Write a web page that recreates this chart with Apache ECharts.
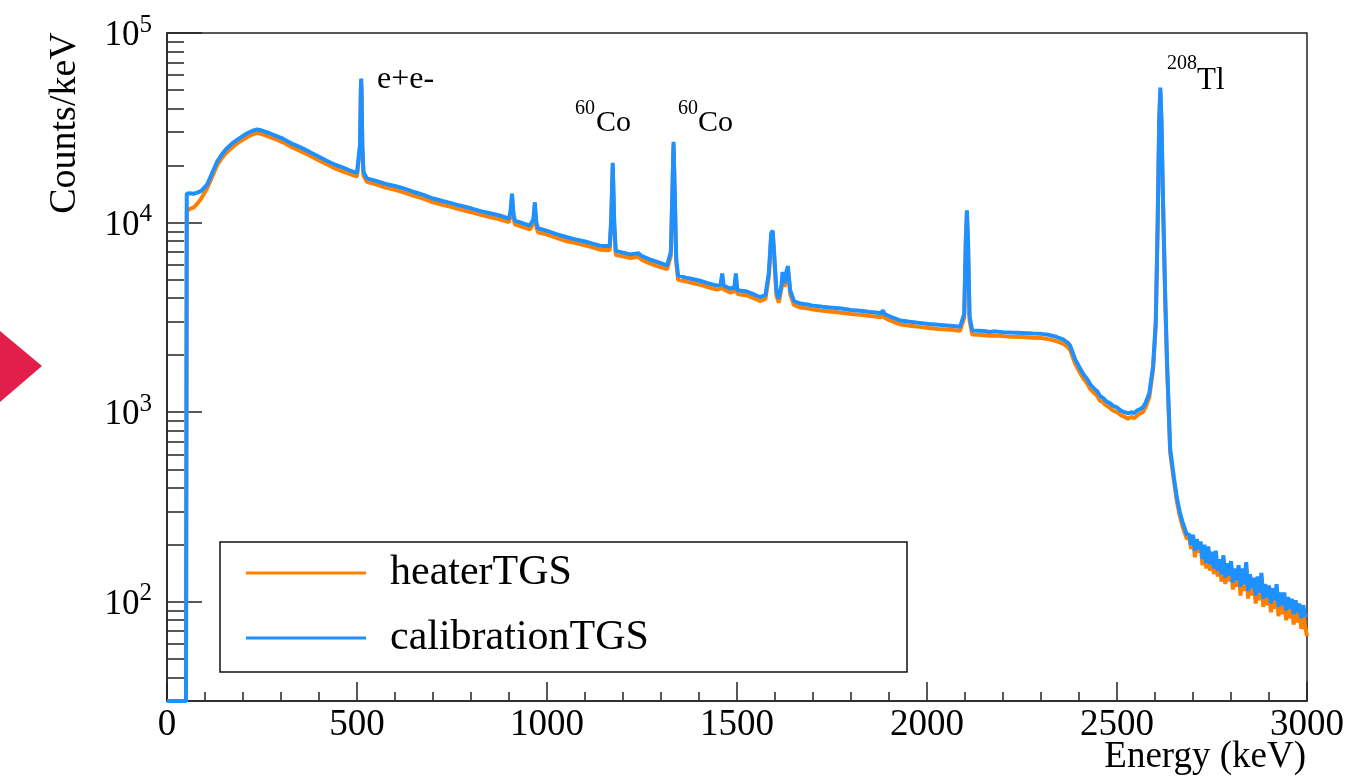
<!DOCTYPE html>
<html>
<head>
<meta charset="utf-8">
<title>Energy spectrum</title>
<script src="https://cdn.jsdelivr.net/npm/echarts@6/dist/echarts.min.js"></script>
<style>
  html, body { margin: 0; padding: 0; background: #fff; }
  #spectrum { width: 1349px; height: 778px; }
</style>
</head>
<body>
<div id="spectrum"></div>
<script>
// energy bins (keV); denser around the peaks and in the noisy tail
var energy = [
    // threshold, bump, 511 keV line
    0, 50, 51, 52, 60, 70, 80, 90, 105, 120,
    132, 145, 158, 175, 192, 210, 225, 237, 250, 270,
    290, 305, 330, 350, 375, 395, 420, 440, 460, 482,
    500, 505, 508, 510, 511, 512, 514, 517, 526, 550,
    // 600 - 1240
    575, 600, 625, 650, 675, 700, 725, 745, 770, 800,
    825, 850, 875, 900, 904, 908, 912, 916, 935, 955,
    964, 968, 972, 976, 1000, 1025, 1050, 1075, 1100, 1120,
    1139, 1165, 1169, 1173, 1177, 1181, 1184, 1200, 1220, 1240,
    // 1250 - 1685
    1250, 1270, 1290, 1316, 1326, 1330, 1333, 1336, 1340, 1345,
    1370, 1400, 1425, 1447, 1457, 1461, 1465, 1482, 1493, 1497,
    1501, 1526, 1545, 1560, 1575, 1584, 1590, 1594, 1598, 1604,
    1610, 1617, 1620, 1625, 1630, 1634, 1640, 1650, 1666, 1685,
    // 1700 - 2200
    1700, 1725, 1750, 1775, 1800, 1825, 1850, 1865, 1880, 1884,
    1888, 1905, 1929, 1955, 1980, 2005, 2030, 2060, 2087, 2098,
    2102, 2105, 2108, 2112, 2119, 2135, 2150, 2165, 2180, 2200,
    // edge, valley, 2614 keV line
    2220, 2250, 2279, 2300, 2320, 2340, 2358, 2370, 2377, 2390,
    2403, 2412, 2421, 2430, 2440, 2448, 2455, 2463, 2470, 2480,
    2490, 2500, 2510, 2520, 2529, 2537, 2545, 2553, 2561, 2568,
    2575, 2585, 2595, 2602, 2607, 2611, 2614, 2617, 2621, 2627,
    2632, 2640, 2650, 2658, 2665, 2672, 2678, 2684,
    // tail
    2690, 2695, 2700, 2705, 2710, 2715, 2720, 2725, 2730, 2735,
    2740, 2745, 2750, 2755, 2760, 2765, 2770, 2775, 2780, 2785,
    2790, 2795, 2800, 2805, 2810, 2815, 2820, 2825, 2830, 2835,
    2840, 2845, 2850, 2855, 2860, 2865, 2870, 2875, 2880, 2885,
    2890, 2895, 2900, 2905, 2910, 2915, 2920, 2925, 2930, 2935,
    2940, 2945, 2950, 2955, 2960, 2965, 2970, 2975, 2980, 2985,
    2990, 2995, 3000
];

// calibrationTGS (blue), counts/keV
var calibration = [
    30, 30, 30, 14200, 14300, 14200, 14400, 14700, 15800, 18500,
    21000, 23000, 24700, 26500, 28000, 29500, 30500, 31000, 30600, 29600,
    28500, 27700, 26000, 25000, 23600, 22500, 21200, 20300, 19600, 18800,
    18300, 18600, 26000, 50000, 57500, 50000, 26000, 18500, 17100, 16600,

    16000, 15600, 15100, 14500, 14000, 13400, 13000, 12700, 12300, 11900,
    11500, 11200, 10900, 10500, 11500, 14200, 11000, 10200, 9950, 9650,
    10400, 12800, 10000, 9350, 9050, 8700, 8400, 8150, 7950, 7750,
    7550, 7500, 10500, 20700, 10000, 7100, 7030, 6950, 6800, 6900,

    6650, 6400, 6200, 5950, 7000, 15000, 26700, 15000, 6500, 5250,
    5100, 4950, 4780, 4650, 4700, 5390, 4650, 4490, 4550, 5390,
    4400, 4330, 4180, 4050, 4150, 5500, 8800, 9080, 6800, 4300,
    3970, 4700, 5500, 4800, 5500, 5900, 4400, 3850, 3740, 3700,

    3650, 3600, 3560, 3520, 3460, 3430, 3380, 3360, 3330, 3450,
    3300, 3180, 3050, 3000, 2960, 2920, 2890, 2860, 2820, 3300,
    8000, 11600, 8000, 3200, 2700, 2690, 2680, 2650, 2670, 2640,

    2630, 2620, 2600, 2590, 2560, 2500, 2420, 2330, 2240, 1900,
    1700, 1580, 1500, 1400, 1330, 1290, 1220, 1190, 1150, 1120,
    1080, 1060, 1020, 1000, 985, 1000, 990, 1020, 1040, 1060,
    1120, 1260, 1760, 3000, 10000, 35000, 51500, 35000, 13400, 4000,
    1760, 640, 450, 350, 300, 265, 245, 225,

    228, 200, 226, 186, 214, 190, 208, 168, 200, 160,
    196, 158, 184, 150, 186, 146, 168, 140, 176, 134,
    160, 138, 164, 126, 150, 130, 156, 120, 150, 124,
    162, 114, 140, 118, 134, 108, 136, 112, 142, 104,
    124, 106, 122, 98, 118, 102, 124, 94, 112, 96,
    112, 90, 106, 92, 104, 86, 102, 88, 98, 82,
    96, 84, 86
];

// heaterTGS (orange), counts/keV
var heater = [
    30, 30, 30, 11500, 11800, 12000, 12600, 13400, 15100, 17700,
    20100, 22000, 23600, 25300, 26800, 28200, 29200, 29700, 29300, 28300,
    27300, 26500, 24900, 23900, 22600, 21500, 20300, 19400, 18700, 18000,
    17500, 17800, 24800, 48000, 55000, 48000, 24800, 17700, 16400, 15900,

    15300, 14900, 14400, 13850, 13400, 12800, 12400, 12150, 11750, 11350,
    11000, 10700, 10400, 10050, 11000, 13600, 10500, 9750, 9500, 9200,
    9900, 12200, 9550, 8900, 8650, 8300, 8000, 7800, 7600, 7400,
    7200, 7150, 10000, 19800, 9550, 6750, 6700, 6650, 6500, 6600,

    6350, 6100, 5900, 5680, 6700, 14300, 25500, 14300, 6200, 5000,
    4870, 4720, 4560, 4430, 4480, 5150, 4440, 4280, 4340, 5150,
    4200, 4130, 3990, 3860, 3960, 5250, 8400, 8650, 6500, 4100,
    3790, 4480, 5250, 4580, 5250, 5630, 4200, 3670, 3570, 3530,

    3480, 3430, 3390, 3350, 3300, 3270, 3220, 3200, 3170, 3290,
    3150, 3030, 2910, 2860, 2820, 2780, 2750, 2720, 2690, 3150,
    7650, 11100, 7650, 3050, 2570, 2560, 2550, 2530, 2540, 2520,

    2500, 2490, 2470, 2460, 2430, 2370, 2300, 2210, 2120, 1800,
    1610, 1500, 1420, 1320, 1260, 1220, 1150, 1130, 1090, 1060,
    1020, 1000, 965, 945, 925, 945, 930, 960, 985, 1000,
    1060, 1200, 1680, 2850, 9500, 33500, 49500, 33500, 12800, 3800,
    1680, 610, 430, 335, 285, 252, 232, 214,

    220, 190, 218, 172, 206, 182, 200, 156, 194, 150,
    188, 146, 176, 140, 178, 136, 160, 128, 168, 124,
    152, 128, 156, 116, 142, 120, 148, 108, 142, 114,
    152, 104, 132, 108, 126, 98, 128, 102, 134, 94,
    116, 96, 114, 88, 110, 92, 116, 84, 104, 86,
    104, 80, 98, 82, 96, 76, 94, 78, 90, 72,
    88, 74, 66
];

var seriesNames = ['heaterTGS', 'calibrationTGS'];
var seriesColors = ['#ff8000', '#1e90ff'];

// y axis ticks: decades get labels, the rest are short minor ticks
var yMajorTicks = [100, 1000, 10000, 100000];
var yMinorTicks = [
    40, 50, 60, 70, 80, 90,
    200, 300, 400, 500, 600, 700, 800, 900,
    2000, 3000, 4000, 5000, 6000, 7000, 8000, 9000,
    20000, 30000, 40000, 50000, 60000, 70000, 80000, 90000
];

var serif = '"Liberation Serif", "Times New Roman", serif';

var chart = echarts.init(document.getElementById('spectrum'), null, { renderer: 'canvas' });

function pairs(values) {
    return energy.map(function (e, i) { return [e, values[i]]; });
}

function decadeLabel(v) {
    var p = Math.round(Math.log(v) / Math.LN10);
    if (Math.abs(v - Math.pow(10, p)) / v > 1e-6) return '';
    return '{b|10}{s|' + p + '}';
}

var option = {
    animation: false,
    backgroundColor: '#fff',
    grid: {
        left: 167, right: 42, top: 33, bottom: 77,
        show: true, borderColor: '#222', borderWidth: 1.5,
        outerBoundsMode: 'none'
    },
    legend: {
        orient: 'vertical',
        left: 241, top: 547,
        itemWidth: 120, itemHeight: 3, itemGap: 23,
        icon: 'rect',
        selectedMode: false,
        data: seriesNames,
        textStyle: { fontFamily: serif, fontSize: 42, color: '#000', padding: [0, 0, 0, 19] }
    },
    xAxis: {
        type: 'value',
        min: 0, max: 3000, interval: 500,
        splitLine: { show: false },
        axisLine: { show: true, onZero: false, lineStyle: { color: '#222', width: 1.5 } },
        axisTick: { show: true, inside: true, length: 19, lineStyle: { color: '#222', width: 1.5 } },
        minorTick: { show: true, splitNumber: 5, length: 9, lineStyle: { color: '#222', width: 1.5 } },
        axisLabel: {
            fontFamily: serif, fontSize: 37, color: '#000', margin: 6,
            formatter: function (v) { return String(v); }
        }
    },
    yAxis: [
        {
            type: 'log', logBase: 10,
            min: 30, max: 100000,
            splitLine: { show: false },
            axisLine: { show: true, lineStyle: { color: '#222', width: 1.5 } },
            axisTick: { show: true, inside: true, length: 35, customValues: yMajorTicks, lineStyle: { color: '#222', width: 1.5 } },
            axisLabel: {
                customValues: yMajorTicks,
                margin: 15,
                formatter: decadeLabel,
                rich: {
                    b: { fontFamily: serif, fontSize: 35, lineHeight: 41, color: '#000', verticalAlign: 'bottom' },
                    s: { fontFamily: serif, fontSize: 25, lineHeight: 33, color: '#000', verticalAlign: 'top' }
                }
            }
        },
        {
            type: 'log', logBase: 10,
            min: 30, max: 100000,
            position: 'left',
            splitLine: { show: false },
            axisLine: { show: false },
            axisTick: { show: true, inside: true, length: 17, customValues: yMinorTicks, lineStyle: { color: '#222', width: 1.5 } },
            axisLabel: { show: false }
        }
    ],
    series: [
        {
            name: seriesNames[0], type: 'line', yAxisIndex: 0,
            data: pairs(heater),
            showSymbol: false, symbol: 'none',
            color: seriesColors[0],
            lineStyle: { color: seriesColors[0], width: 4 },
            z: 3
        },
        {
            name: seriesNames[1], type: 'line', yAxisIndex: 0,
            data: pairs(calibration),
            showSymbol: false, symbol: 'none',
            color: seriesColors[1],
            lineStyle: { color: seriesColors[1], width: 4 },
            z: 4
        }
    ],
    graphic: [
        // legend frame
        { type: 'rect', shape: { x: 220, y: 542, width: 687, height: 130 },
          style: { fill: 'none', stroke: '#111', lineWidth: 1.5 }, z: 10 },
        // axis titles
        { type: 'text', x: 65, y: 123, rotation: Math.PI / 2,
          style: { text: 'Counts/keV', font: '38px ' + serif, fill: '#000', textAlign: 'center', textVerticalAlign: 'middle' } },
        { type: 'text', x: 1306, y: 757,
          style: { text: 'Energy (keV)', font: '37px ' + serif, fill: '#000', textAlign: 'right', textVerticalAlign: 'middle' } },
        // peak labels
        { type: 'text', x: 377, y: 80,
          style: { text: 'e+e-', font: '32px ' + serif, fill: '#000', textAlign: 'left', textVerticalAlign: 'middle' } },
        { type: 'text', x: 575, y: 109,
          style: { text: '60', font: '20px ' + serif, fill: '#000', textAlign: 'left', textVerticalAlign: 'middle' } },
        { type: 'text', x: 596, y: 123,
          style: { text: 'Co', font: '30px ' + serif, fill: '#000', textAlign: 'left', textVerticalAlign: 'middle' } },
        { type: 'text', x: 678, y: 109,
          style: { text: '60', font: '20px ' + serif, fill: '#000', textAlign: 'left', textVerticalAlign: 'middle' } },
        { type: 'text', x: 698, y: 123,
          style: { text: 'Co', font: '30px ' + serif, fill: '#000', textAlign: 'left', textVerticalAlign: 'middle' } },
        { type: 'text', x: 1167, y: 64,
          style: { text: '208', font: '20px ' + serif, fill: '#000', textAlign: 'left', textVerticalAlign: 'middle' } },
        { type: 'text', x: 1197, y: 81,
          style: { text: 'Tl', font: '31px ' + serif, fill: '#000', textAlign: 'left', textVerticalAlign: 'middle' } },
        // red marker at the left edge
        { type: 'polygon', shape: { points: [[0, 331], [42, 366], [0, 402]] },
          style: { fill: '#e21f4a' } }
    ]
};

chart.setOption(option);
</script>
</body>
</html>
